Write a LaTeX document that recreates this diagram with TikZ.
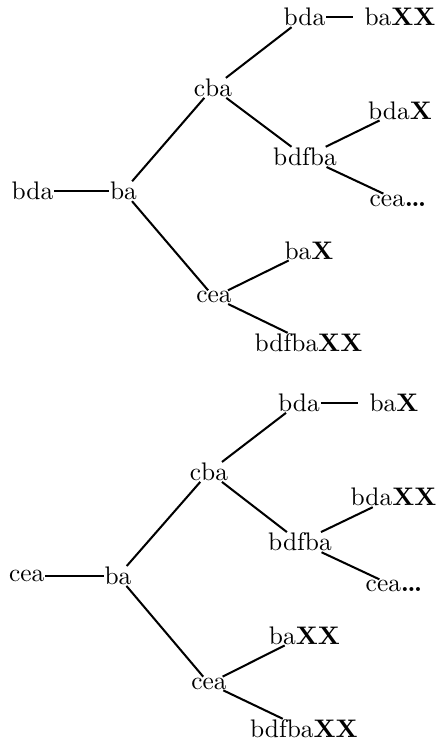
\documentclass[tikz,border=0pt]{standalone}
\usepackage{amsmath, amssymb}
\usepackage{xcolor}
\usepackage{tikz}

\begin{document}
\begin{tikzpicture}[thick,
		word/.style={inner sep=0pt},
		gap/.style={word, inner xsep=4pt}]
		\useasboundingbox (0,0) rectangle (6.047,-10.295);

		% first tree
		\node[word] (rootA) at (0.450,-2.646) {bda};
		\node[word] (baA) at (1.709,-2.646) {ba};
		\node[word] (cbaA) at (2.947,-1.216) {cba};
		\node[word] (ceaA) at (2.961,-4.112) {cea};
		\node[word] (bdaA) at (4.213,-0.238) {bda};
		\node[gap] (baXXA) at (5.535,-0.238) {ba\textbf{XX}};
		\node[word] (bdfbaA) at (4.220,-2.171) {bdfba};
		\node[word] (bdaXA) at (5.535,-1.529) {bda\textbf{X}};
		\node[word] (ceadA) at (5.507,-2.774) {cea\textbf{\ldots}};
		\node[word] (baXA) at (4.276,-3.466) {ba\textbf{X}};
		\node[word] (bdfbaXXA) at (4.269,-4.745) {bdfba\textbf{XX}};

		\draw (rootA) -- (baA);
		\draw (baA) -- (cbaA);
		\draw (baA) -- (ceaA);
		\draw (cbaA) -- (bdaA);
		\draw (bdaA) -- (baXXA);
		\draw (cbaA) -- (bdfbaA);
		\draw (bdfbaA) -- (bdaXA);
		\draw (bdfbaA) -- (ceadA);
		\draw (ceaA) -- (baXA);
		\draw (ceaA) -- (bdfbaXXA);

		% second tree
		\node[word] (rootB) at (0.369,-7.970) {cea};
		\node[word] (baB) at (1.633,-7.970) {ba};
		\node[word] (cbaB) at (2.892,-6.530) {cba};
		\node[word] (ceaB) at (2.892,-9.458) {cea};
		\node[word] (bdaB) at (4.137,-5.575) {bda};
		\node[gap] (baXB) at (5.452,-5.575) {ba\textbf{X}};
		\node[word] (bdfbaB) at (4.151,-7.502) {bdfba};
		\node[word] (bdaXXB) at (5.445,-6.880) {bda\textbf{XX}};
		\node[word] (ceadB) at (5.452,-8.111) {cea\textbf{\ldots}};
		\node[word] (baXXB) at (4.213,-8.793) {ba\textbf{XX}};
		\node[word] (bdfbaXXB) at (4.206,-10.086) {bdfba\textbf{XX}};

		\draw (rootB) -- (baB);
		\draw (baB) -- (cbaB);
		\draw (baB) -- (ceaB);
		\draw (cbaB) -- (bdaB);
		\draw (bdaB) -- (baXB);
		\draw (cbaB) -- (bdfbaB);
		\draw (bdfbaB) -- (bdaXXB);
		\draw (bdfbaB) -- (ceadB);
		\draw (ceaB) -- (baXXB);
		\draw (ceaB) -- (bdfbaXXB);
	\end{tikzpicture}
\end{document}
